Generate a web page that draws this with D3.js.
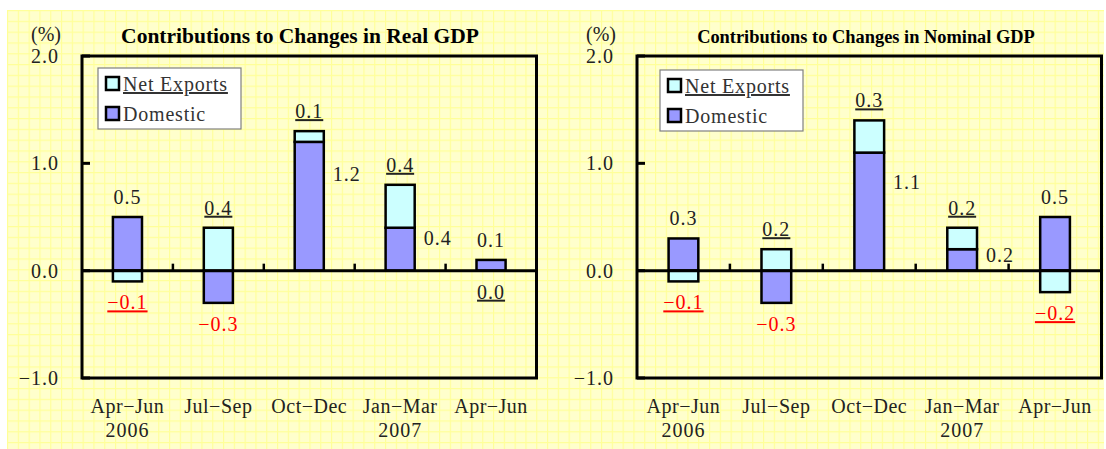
<!DOCTYPE html>
<html>
<head>
<meta charset="utf-8">
<script src="https://cdn.jsdelivr.net/npm/d3@7"></script>
<style>
  body { margin: 0; background: #fff; }
</style>
</head>
<body>
<svg id="chart" width="1106" height="449" style="font-family: 'Liberation Serif', 'DejaVu Serif', 'Times New Roman', serif;"></svg>
<script>
// quarters shown on the x axis
const quarters = ["Apr\u2212Jun", "Jul\u2212Sep", "Oct\u2212Dec", "Jan\u2212Mar", "Apr\u2212Jun"];
const years = ["2006", "", "", "2007", ""];
const yTicks = [2.0, 1.0, 0.0, -1.0];

// contributions, percentage points
const realDomestic = [0.5, -0.3, 1.2, 0.4, 0.1];
const realNetExports = [-0.1, 0.4, 0.1, 0.4, 0.0];
const nominalDomestic = [0.3, -0.3, 1.1, 0.2, 0.5];
const nominalNetExports = [-0.1, 0.2, 0.3, 0.2, -0.2];

const seriesNames = ["Net Exports", "Domestic"];
const colDomestic = "#9999ff";
const colNet = "#ccffff";
const FONT = "'Liberation Serif', 'DejaVu Serif', serif";

const svg = d3.select("#chart");

// yellow graph-paper background
const defs = svg.append("defs");
const pat = defs.append("pattern")
    .attr("id", "grid")
    .attr("patternUnits", "userSpaceOnUse")
    .attr("x", 7).attr("y", 10)
    .attr("width", 10.8).attr("height", 10.8);
pat.append("rect").attr("width", 10.8).attr("height", 10.8).attr("fill", "#ffffcc");
pat.append("path")
    .attr("d", "M0,0.5H10.8M0.5,0V10.8")
    .attr("stroke", "#ffff99")
    .attr("stroke-width", 1.3);

svg.append("rect")
    .attr("x", 7).attr("y", 10)
    .attr("width", 1097).attr("height", 439)
    .attr("fill", "url(#grid)");

function drawPanel(opts) {
    const { left, right, title, titleSize, titleX, domestic, net, legendX, legendY, tickLabelX } = opts;
    const top = 56, bottom = 378;

    const x = d3.scaleBand().domain(d3.range(quarters.length)).range([left, right]).paddingInner(0).paddingOuter(0);
    const y = d3.scaleLinear().domain([-1, 2]).range([bottom, top]);
    const bw = x.bandwidth() * 0.32;
    const g = svg.append("g").attr("font-family", FONT);

    // title and unit
    g.append("text")
        .attr("x", titleX).attr("y", 43)
        .attr("text-anchor", "middle")
        .attr("font-family", FONT)
        .style("font-weight", "bold")
        .style("font-size", titleSize + "px")
        .text(title);
    g.append("text")
        .attr("x", tickLabelX - 13).attr("y", 41)
        .attr("text-anchor", "middle")
        .attr("font-family", FONT)
        .style("font-size", "20px")
        .attr("fill", "#222")
        .text("(%)");

    // y tick labels
    g.selectAll(".ylab")
        .data(yTicks)
        .enter().append("text")
        .attr("x", tickLabelX)
        .attr("y", d => y(d) + 7)
        .attr("text-anchor", "end")
        .attr("font-family", FONT)
        .style("font-size", "20px")
        .style("letter-spacing", "1px")
        .attr("fill", "#222")
        .text(d => d3.format(".1f")(d).replace("-", "\u2212"));

    // y ticks (inside)
    g.selectAll(".ytick")
        .data(yTicks)
        .enter().append("line")
        .attr("x1", left).attr("x2", left + 8)
        .attr("y1", d => y(d)).attr("y2", d => y(d))
        .attr("stroke", "#000").attr("stroke-width", 3);

    // bars: stacked for positive pieces, separate for negative
    quarters.forEach((q, i) => {
        const cx = x(i) + x.bandwidth() / 2;
        const d = domestic[i], n = net[i];
        let domBase = 0, netBase = 0;
        if (d > 0 && n > 0) netBase = d;
        if (d < 0 && n < 0) netBase = d;
        const rects = [
            { v0: domBase, v1: domBase + d, fill: colDomestic },
            { v0: netBase, v1: netBase + n, fill: colNet }
        ];
        rects.forEach(r => {
            if (r.v0 === r.v1) return;
            g.append("rect")
                .attr("x", cx - bw / 2)
                .attr("y", y(Math.max(r.v0, r.v1)))
                .attr("width", bw)
                .attr("height", Math.abs(y(r.v0) - y(r.v1)))
                .attr("fill", r.fill)
                .attr("stroke", "#000")
                .attr("stroke-width", 2.5);
        });

        // value labels
        const fmt = v => d3.format(".1f")(v).replace("-", "\u2212");
        const lab = (txt, lx, ly, anchor, neg, underline) => {
            const t = g.append("text")
                .attr("x", lx).attr("y", ly)
                .attr("text-anchor", anchor)
                .attr("font-family", FONT)
                .style("font-size", "20px")
                .style("letter-spacing", "1px")
                .attr("fill", neg ? "#ff0000" : "#222")
                .text(txt);
            if (underline) t.style("text-decoration", "underline");
        };
        // net exports label (underlined)
        if (n > 0) {
            lab(fmt(n), cx, y(netBase + n) - 13, "middle", false, true);
        } else {
            lab(fmt(n), cx, y(netBase + n) + 28, "middle", n < 0, true);
        }
        // domestic label
        if (d > 0 && n > 0) {
            const yc = y(d) + 0.25 * (y(0) - y(d));
            lab(fmt(d), cx + bw / 2 + 9, yc + 7, "start", false, false);
        } else if (d > 0) {
            lab(fmt(d), cx, y(d) - 13, "middle", false, false);
        } else {
            lab(fmt(d), cx, y(d) + 28, "middle", true, false);
        }
    });

    // zero line with upward ticks at category boundaries
    g.append("line")
        .attr("x1", left).attr("x2", right)
        .attr("y1", y(0)).attr("y2", y(0))
        .attr("stroke", "#000").attr("stroke-width", 3);
    g.selectAll(".xtick")
        .data(d3.range(1, quarters.length))
        .enter().append("line")
        .attr("x1", i => x(i)).attr("x2", i => x(i))
        .attr("y1", y(0)).attr("y2", y(0) - 7)
        .attr("stroke", "#000").attr("stroke-width", 2.5);

    // frame
    g.append("rect")
        .attr("x", left).attr("y", top)
        .attr("width", right - left).attr("height", bottom - top)
        .attr("fill", "none")
        .attr("stroke", "#000").attr("stroke-width", 3);

    // x labels
    g.selectAll(".xlab")
        .data(quarters)
        .enter().append("text")
        .attr("x", (d, i) => x(i) + x.bandwidth() / 2)
        .attr("y", 413)
        .attr("text-anchor", "middle")
        .attr("font-family", FONT)
        .style("font-size", "20px")
        .style("letter-spacing", "0.5px")
        .attr("fill", "#222")
        .text(d => d);
    g.selectAll(".ylab2")
        .data(years)
        .enter().append("text")
        .attr("x", (d, i) => x(i) + x.bandwidth() / 2)
        .attr("y", 437)
        .attr("text-anchor", "middle")
        .attr("font-family", FONT)
        .style("font-size", "20px")
        .style("letter-spacing", "1px")
        .attr("fill", "#222")
        .text(d => d);

    // legend
    const lg = g.append("g").attr("transform", `translate(${legendX},${legendY})`);
    lg.append("rect")
        .attr("width", 143).attr("height", 61)
        .attr("fill", "#fff")
        .attr("stroke", "#808080").attr("stroke-width", 1.2);
    const cols = [colNet, colDomestic];
    seriesNames.forEach((s, k) => {
        lg.append("rect")
            .attr("x", 8).attr("y", 9 + k * 30)
            .attr("width", 13).attr("height", 13)
            .attr("fill", cols[k])
            .attr("stroke", "#000").attr("stroke-width", 2.5);
        const t = lg.append("text")
            .attr("x", 25).attr("y", 23 + k * 30)
            .attr("font-family", FONT)
            .style("font-size", "20px")
            .style("letter-spacing", "0.8px")
            .attr("fill", "#333")
            .text(s);
        if (k === 0) t.style("text-decoration", "underline");
    });
}

drawPanel({
    left: 82, right: 536.5,
    title: "Contributions to Changes in Real GDP", titleSize: 21.5, titleX: 300,
    domestic: realDomestic, net: realNetExports,
    legendX: 98, legendY: 68, tickLabelX: 59
});
drawPanel({
    left: 637, right: 1101.5,
    title: "Contributions to Changes in Nominal GDP", titleSize: 18.4, titleX: 866,
    domestic: nominalDomestic, net: nominalNetExports,
    legendX: 660, legendY: 70, tickLabelX: 614
});
</script>
</body>
</html>
